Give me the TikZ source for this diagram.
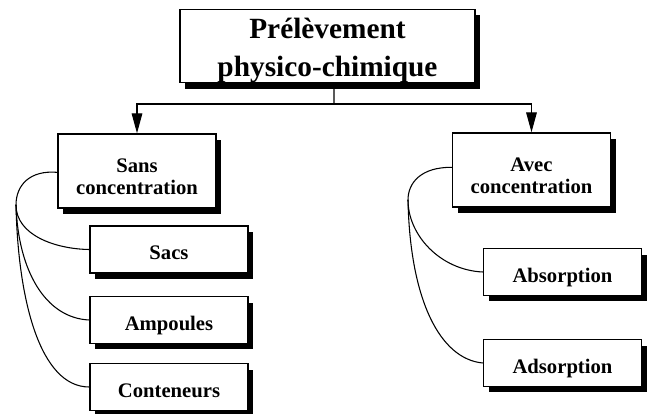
\documentclass[tikz,border=0pt]{standalone}
\usepackage{fontspec}
\setmainfont{Liberation Serif}
\usetikzlibrary{arrows.meta,shadows}
\begin{document}
\begin{tikzpicture}[x=0.75pt,y=-0.75pt,
  box/.style={draw, line width=1.1pt, fill=white, inner sep=0pt, align=center,
    font=\bfseries\fontsize{15.5}{16.5}\selectfont,
    drop shadow={shadow xshift=3.75pt, shadow yshift=-4.5pt, fill=black, opacity=1}},
  leaf/.style={box, minimum width=118.5pt, minimum height=35pt, text height=15pt, text depth=0pt},
  mid/.style={box, minimum width=118.5pt, minimum height=55.5pt, text height=34.5pt, text depth=0pt},
  conn/.style={line width=0.8pt},
  arr/.style={conn, -{Triangle[length=15pt,width=8pt]}}
]
\useasboundingbox (0,0) rectangle (647,414);

\node[box, minimum width=221.25pt, minimum height=51pt, text height=50pt, text depth=5pt,
  font=\bfseries\fontsize{22}{28.5}\selectfont] (top) at (327.5,46) {Prélèvement\\physico-chimique};

\node[mid] (sans) at (137,171) {Sans\\concentration};
\node[mid] (avec) at (531.5,170) {Avec\\concentration};

\node[leaf] (sacs) at (169,249.5) {Sacs};
\node[leaf] (amp) at (169,320) {Ampoules};
\node[leaf] (cont) at (169,387) {Conteneurs};

\node[leaf] (abs) at (562.5,272) {Absorption};
\node[leaf] (ads) at (562.5,363) {Adsorption};

\coordinate (split) at (334,104);
\draw[conn] ([xshift=4.9pt]top.south) -- (split);
\draw[arr] (split) -| (sans.north);
\draw[arr] (split) -| (avec.north);

\coordinate (jl) at (16,205);
\draw[conn] ([yshift=-1pt]sans.west) .. controls (30,170) and (16,185) .. (jl);
\draw[conn] (jl) .. controls (16,235) and (55,249) .. (sacs.west);
\draw[conn] (jl) .. controls (18,270) and (45,318) .. (amp.west);
\draw[conn] (jl) .. controls (18,300) and (40,387) .. (cont.west);

\coordinate (jr) at (408,200);
\draw[conn] ([yshift=2pt]avec.west) .. controls (422,167) and (408,182) .. (jr);
\draw[conn] (jr) .. controls (408,235) and (440,270) .. (abs.west);
\draw[conn] (jr) .. controls (410,300) and (440,359) .. (ads.west);
\end{tikzpicture}
\end{document}
